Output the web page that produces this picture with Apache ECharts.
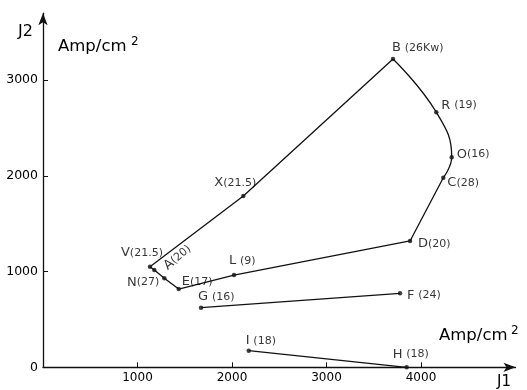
<!DOCTYPE html>
<html>
<head>
<meta charset="utf-8">
<script src="https://cdn.jsdelivr.net/npm/echarts@6/dist/echarts.min.js"></script>
<style>
  html, body { margin: 0; padding: 0; background: #fff; }
  #chart { width: 527px; height: 390px; }
</style>
</head>
<body>
<div id="chart"></div>
<script>
// Operating points: current densities J1, J2 (Amp/cm²) and the power tag of each point
const pointNames = ['V', 'X', 'B', 'R', 'O', 'C', 'D', 'L', 'E', 'N', 'A', 'G', 'F', 'I', 'H'];
const j1Values  = [1132, 2120, 3704, 4162, 4325, 4236, 3884, 2021, 1436, 1284, 1178, 1672, 3778, 2177, 3848];
const j2Values  = [1051, 1790, 3222, 2665, 2194, 1981, 1320,  964,  818,  930, 1017,  623,  773,  174,    0];
const pointTags = ['21.5', '21.5', '26Kw', '19', '16', '28', '20', '9', '17', '27', '20', '16', '24', '18', '18'];

// Tick labels on both axes
const xTicks = [1000, 2000, 3000, 4000];
const yTicks = [0, 1000, 2000, 3000];

// Curves joining the points (by name)
const upperEdge = ['V', 'X', 'B'];
const roundedEdge = ['B', 'R', 'O', 'C'];
const lowerEdge = ['C', 'D', 'L', 'E', 'N', 'A', 'V'];
const gfCurve = ['G', 'F'];
const ihCurve = ['I', 'H'];

const FONT = 'DejaVu Sans';
const INK = '#000000';

function pt(name) {
  const i = pointNames.indexOf(name);
  return [j1Values[i], j2Values[i]];
}

// where each tag is written relative to its dot (offsets are in the label's own rotated frame)
const labelPlace = {
  B: { align: 'left',  offset: [-1, -11], sep: ' ' },
  R: { align: 'left',  offset: [5, -7],  sep: ' ' },
  O: { align: 'left',  offset: [5, -3],  sep: '' },
  C: { align: 'left',  offset: [4, 5],   sep: '' },
  D: { align: 'left',  offset: [8, 3],   sep: '' },
  X: { align: 'left',  offset: [-29, -13], sep: '' },
  V: { align: 'left',  offset: [-29, -14], sep: '' },
  A: { align: 'left',  offset: [10, 5.5], sep: '', rotate: 40 },
  N: { align: 'right', offset: [-5, 4],  sep: '' },
  E: { align: 'left',  offset: [3, -7],  sep: '' },
  L: { align: 'left',  offset: [-5, -14], sep: ' ' },
  G: { align: 'left',  offset: [-3, -11], sep: ' ' },
  F: { align: 'left',  offset: [7, 2],   sep: ' ' },
  I: { align: 'left',  offset: [-3, -10], sep: ' ' },
  H: { align: 'left',  offset: [-14, -13], sep: ' ' }
};

const pointData = pointNames.map(function (n, i) {
  const p = labelPlace[n];
  return {
    value: [j1Values[i], j2Values[i]],
    label: {
      show: true,
      position: 'inside',
      align: p.align,
      verticalAlign: 'middle',
      offset: p.offset,
      rotate: p.rotate || 0,
      formatter: '{n|' + n + '}' + p.sep + '{p|(' + pointTags[i] + ')}'
    }
  };
});

function lineSeries(names, smooth) {
  return {
    type: 'line',
    data: names.map(pt),
    smooth: smooth || false,
    showSymbol: false,
    silent: true,
    lineStyle: { color: '#111', width: 1.3 },
    z: 2
  };
}

const plain = function (v) { return String(v); };

const chart = echarts.init(document.getElementById('chart'), null, { renderer: 'canvas' });

chart.setOption({
  animation: false,
  backgroundColor: '#ffffff',
  grid: { left: 43, right: 11.5, top: 13.2, bottom: 22.7, containLabel: false },
  xAxis: {
    type: 'value',
    min: 0, max: 5000, interval: 1000,
    axisLine: { show: true, lineStyle: { color: '#111', width: 1.3 }, symbol: ['none', 'arrow'], symbolSize: [7, 12] },
    axisTick: { show: true, inside: true, length: 5, customValues: xTicks, lineStyle: { color: '#111', width: 1 } },
    axisLabel: { customValues: xTicks, formatter: plain, color: INK, fontFamily: FONT, fontSize: 12, margin: 5 },
    splitLine: { show: false }
  },
  yAxis: {
    type: 'value',
    min: 0, max: 3700, interval: 1000,
    axisLine: { show: true, lineStyle: { color: '#111', width: 1.3 }, symbol: ['none', 'arrow'], symbolSize: [7, 12] },
    axisTick: { show: true, inside: true, length: 5, customValues: [1000, 2000, 3000], lineStyle: { color: '#111', width: 1 } },
    axisLabel: { customValues: yTicks, formatter: plain, color: INK, fontFamily: FONT, fontSize: 12.5, margin: 5 },
    splitLine: { show: false }
  },
  graphic: [
    { type: 'text', left: 18, top: 24, style: { text: 'J2', font: '16px "DejaVu Sans"', fill: INK } },
    { type: 'text', left: 58, top: 38, style: { text: 'Amp/cm', font: '16.5px "DejaVu Sans"', fill: INK } },
    { type: 'text', left: 131, top: 36, style: { text: '2', font: '12px "DejaVu Sans"', fill: INK } },
    { type: 'text', left: 439, top: 327, style: { text: 'Amp/cm', font: '16.5px "DejaVu Sans"', fill: INK } },
    { type: 'text', left: 511, top: 325, style: { text: '2', font: '12px "DejaVu Sans"', fill: INK } },
    { type: 'text', left: 497, top: 375, style: { text: 'J1', font: '15px "DejaVu Sans"', fill: INK } }
  ],
  series: [
    lineSeries(upperEdge),
    lineSeries(roundedEdge, 0.45),
    lineSeries(lowerEdge),
    lineSeries(gfCurve),
    lineSeries(ihCurve),
    {
      type: 'scatter',
      data: pointData,
      symbol: 'circle',
      symbolSize: 4.5,
      itemStyle: { color: '#111' },
      label: {
        color: INK,
        textBorderWidth: 0,
        fontFamily: FONT,
        rich: {
          n: { fontFamily: FONT, fontSize: 13, color: INK, textBorderWidth: 0 },
          p: { fontFamily: FONT, fontSize: 11, color: INK, textBorderWidth: 0 }
        }
      },
      z: 3
    }
  ]
});
</script>
</body>
</html>
